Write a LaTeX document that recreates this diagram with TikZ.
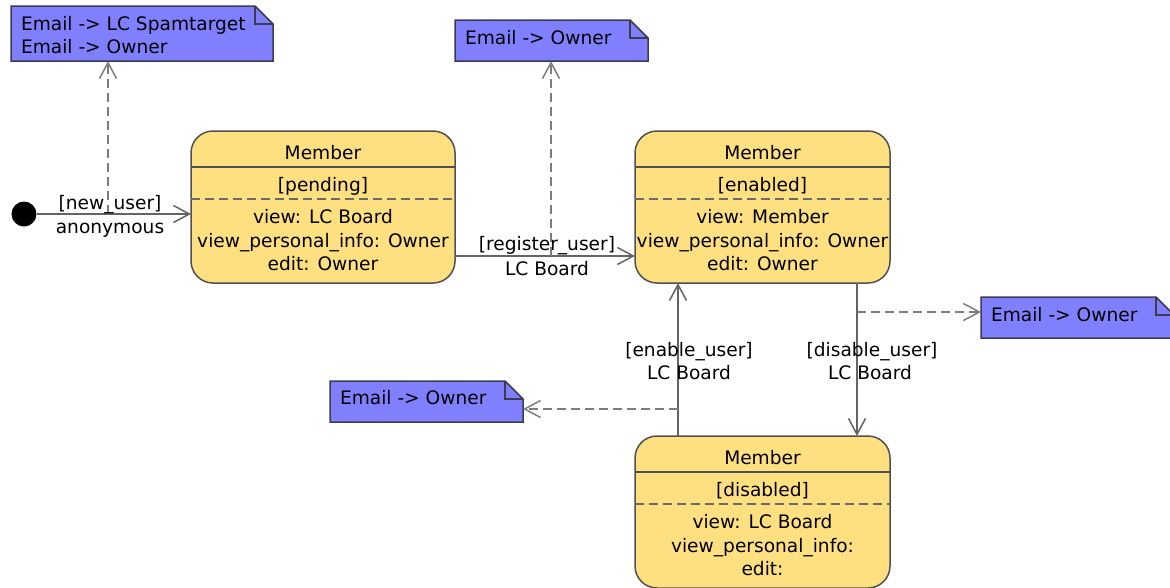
\documentclass[tikz,border=0pt]{standalone}
\usepackage{fontspec}
\setmainfont{DejaVu Sans}
\usetikzlibrary{arrows.meta,backgrounds}
\definecolor{stfill}{RGB}{254,224,128}
\definecolor{ntfill}{RGB}{128,128,255}
\definecolor{stbord}{RGB}{80,80,80}
\definecolor{ntbord}{RGB}{60,60,80}
\definecolor{arrcol}{RGB}{100,100,100}
\definecolor{darrcol}{RGB}{125,125,125}
\newcommand\foldnote[1]{%
  \draw[notepath] (#1.north west) -- ([xshift=-18pt]#1.north east) -- ([yshift=-18pt]#1.north east) -- (#1.south east) -- (#1.south west) -- cycle;
  \draw[notepath, fill=none] ([xshift=-18pt]#1.north east) |- ([yshift=-18pt]#1.north east);}
\begin{document}
\begin{tikzpicture}[x=1pt,y=-1pt,
  every node/.style={font=\fontsize{18.6pt}{23.5pt}\selectfont, inner sep=0pt, outer sep=0pt, text=black},
  state/.style={draw=stbord, line width=1.5pt, fill=stfill, rounded corners=22pt, minimum height=152pt, anchor=north west},
  notebox/.style={minimum height=41pt, anchor=north west},
  notepath/.style={draw=ntbord, line width=1.5pt, fill=ntfill, line join=miter},
  stext/.style={anchor=base},
  ntext/.style={anchor=base west},
  lbl/.style={anchor=base},
  trans/.style={draw=arrcol, line width=1.5pt, -{Straight Barb[length=16pt,width=17pt,line width=1.5pt]}},
  dtrans/.style={draw=darrcol, line width=2pt, dash pattern=on 9pt off 5pt, -{Straight Barb[length=16pt,width=17pt,line width=1.5pt]}},
  sep/.style={draw=stbord, line width=1.5pt},
  dsep/.style={draw=stbord!85, line width=1.8pt, dash pattern=on 9pt off 5pt},
]
\useasboundingbox (0,0) rectangle (1170,587);

% initial state
\node[circle, fill=black, minimum size=25pt] (init) at (24,214) {};

% states
\node[state, minimum width=264pt] (s1) at (191,131) {};
\node[state, minimum width=255pt] (s2) at (635,131) {};
\node[state, minimum width=255pt] (s3) at (635,436) {};

\foreach \s in {s1,s2,s3}{
  \draw[sep] ([yshift=-36pt]\s.north west) -- ([yshift=-36pt]\s.north east);
  \draw[dsep] ([yshift=-68pt]\s.north west) -- ([yshift=-68pt]\s.north east);
}

\node[stext] (s1t) at ([yshift=-28pt]s1.north) {Member};
\node[stext] (s1g) at ([yshift=-60pt]s1.north) {[pending]};
\node[stext] (s1a) at ([yshift=-92pt]s1.north) {view: LC Board};
\node[stext] (s1b) at ([yshift=-116pt]s1.north) {view\_personal\_info: Owner};
\node[stext] (s1c) at ([yshift=-139pt]s1.north) {edit: Owner};

\node[stext] (s2t) at ([yshift=-28pt]s2.north) {Member};
\node[stext] (s2g) at ([yshift=-60pt]s2.north) {[enabled]};
\node[stext] (s2a) at ([yshift=-92pt]s2.north) {view: Member};
\node[stext] (s2b) at ([yshift=-116pt]s2.north) {view\_personal\_info: Owner};
\node[stext] (s2c) at ([yshift=-139pt]s2.north) {edit: Owner};

\node[stext] (s3t) at ([yshift=-28pt]s3.north) {Member};
\node[stext] (s3g) at ([yshift=-60pt]s3.north) {[disabled]};
\node[stext] (s3a) at ([yshift=-92pt]s3.north) {view: LC Board};
\node[stext] (s3b) at ([yshift=-116pt]s3.north) {view\_personal\_info:};
\node[stext] (s3c) at ([yshift=-139pt]s3.north) {edit:};

% notes
\node[notebox, minimum width=262pt, minimum height=55pt] (n1) at (11,6) {};
\node[notebox, minimum width=193pt] (n2) at (455,20) {};
\node[notebox, minimum width=193pt] (n3) at (981,297) {};
\node[notebox, minimum width=193pt] (n4) at (330,381) {};
\begin{scope}[on background layer]
\foldnote{n1}
\foldnote{n2}
\foldnote{n3}
\foldnote{n4}
\end{scope}
\node[ntext] (n1a) at ([xshift=10pt]n1.west |- 0,30) {Email -> LC Spamtarget};
\node[ntext] (n1b) at ([xshift=10pt]n1.west |- 0,53) {Email -> Owner};
\node[ntext] (n2a) at ([xshift=10pt]n2.west |- 0,44) {Email -> Owner};
\node[ntext] (n3a) at ([xshift=10pt]n3.west |- 0,321) {Email -> Owner};
\node[ntext] (n4a) at ([xshift=10pt]n4.west |- 0,404) {Email -> Owner};

% connector anchor coordinates
\coordinate (d1) at (108,214);
\coordinate (ry) at (551,256);
\coordinate (ex) at (678,409);
\coordinate (dx) at (857,312);

% transitions
\draw[trans] (init.east) -- (init -| s1.west);
\draw[trans] (s1.east |- ry) -- (s2.west |- ry);
\draw[trans] (s3.north -| ex) -- (s2.south -| ex);
\draw[trans] (s2.south -| dx) -- (s3.north -| dx);

% note links
\draw[dtrans] (d1) -- (d1 |- n1.south);
\draw[dtrans] (ry) -- (ry |- n2.south);
\draw[dtrans] (ex) -- (ex -| n4.east);
\draw[dtrans] (dx) -- (dx -| n3.west);

% labels
\node[lbl] (l1a) at (110,209) {[new\_user]};
\node[lbl] (l1b) at (110,233) {anonymous};
\node[lbl] (l2a) at (547,250) {[register\_user]};
\node[lbl] (l2b) at (547,275) {LC Board};
\node[lbl] (l3a) at (689,356) {[enable\_user]};
\node[lbl] (l3b) at (689,379) {LC Board};
\node[lbl] (l4a) at (872,356) {[disable\_user]};
\node[lbl] (l4b) at (870,379) {LC Board};
\end{tikzpicture}
\end{document}
